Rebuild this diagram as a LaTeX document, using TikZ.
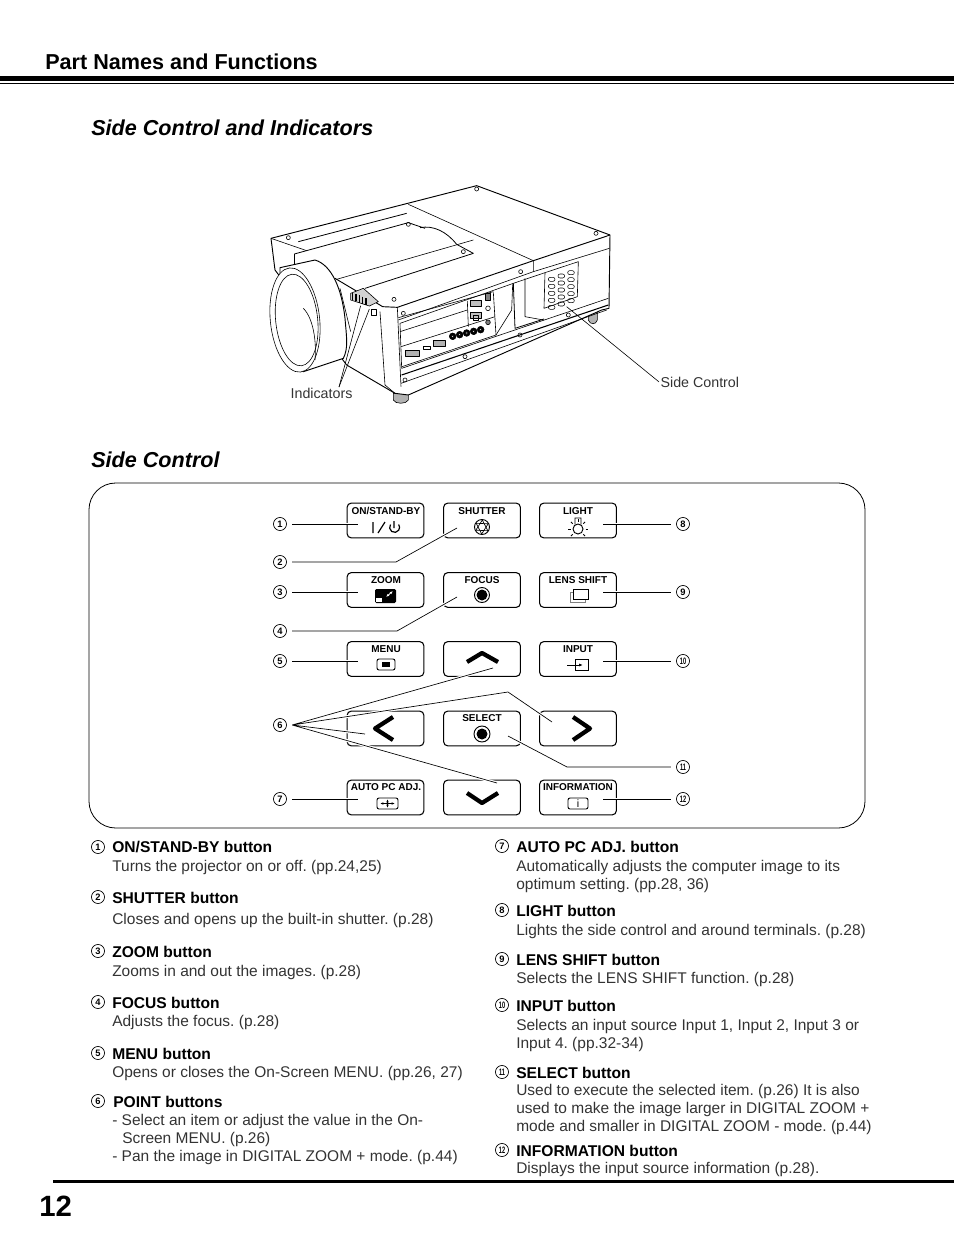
\documentclass[tikz,border=0pt]{standalone}
\usepackage{graphicx}
\usepackage{fontspec}
\setmainfont{Liberation Sans}
\usetikzlibrary{positioning,arrows.meta}
\frenchspacing
\definecolor{inkgray}{gray}{0.2}
\newcommand{\wide}[1]{\scalebox{0.6}[1]{#1}}
\tikzset{
    btn/.style={draw, line width=0.8pt, rounded corners=3pt, minimum width=57.5pt, minimum height=26pt, inner sep=0pt, fill=white},
    btntext/.style={font=\fontsize{7.5}{8}\selectfont\bfseries, inner sep=0pt},
    icon/.style={line width=0.7pt},
    chevron/.style={line width=3.2pt, line join=round},
    numlabel/.style={draw, circle, line width=0.5pt, minimum size=9.8pt, inner sep=0pt, outer sep=4.2pt, font=\fontsize{7}{7}\selectfont\bfseries},
    listnum/.style={numlabel, outer sep=0pt},
    leader/.style={line width=0.5pt, preaction={draw=white, line width=2.2pt}},
    itemtitle/.style={anchor=base west, inner sep=0pt, font=\fontsize{11.7}{13}\selectfont\bfseries},
    itemtext/.style={anchor=base west, inner sep=0pt, text=inkgray, font=\fontsize{11.62}{13}\selectfont},
    heading/.style={anchor=base west, inner sep=0pt, font=\fontsize{16.2}{18}\selectfont\bfseries\itshape},
    thin part/.style={line width=0.45pt},
    callout/.style={anchor=base west, inner sep=1pt, text=inkgray, font=\fontsize{10.7}{12}\selectfont}
}
\begin{document}
\begin{tikzpicture}[x=0.75pt, y=-0.75pt]
    \useasboundingbox (0,0) rectangle (954,1235);

    % page head and foot
    \node[anchor=base west, inner sep=0pt, font=\fontsize{16.2}{18}\selectfont\bfseries] (pagehead) at (45,69) {Part Names and Functions};
    \fill (0,76) rectangle (954,80.5);
    \fill (0,82.5) rectangle (954,83.5);
    \fill (53,1180) rectangle (954,1182.5);
    \node[anchor=base west, inner sep=0pt, font=\fontsize{22}{24}\selectfont\bfseries] (pagenum) at (39,1216) {12};
    \node[heading] (headside) at (91,135) {Side Control and Indicators};
    \node[heading] (headctrl) at (91,467) {Side Control};

    % projector, in its own coordinates
    \begin{scope}[shift={(260,175)}, scale=1/3, thin part, line join=round]
        % feet
        \draw[fill=gray!60] (400,655) -- (400,675) .. controls (405,688) and (440,688) .. (445,675) -- (445,655) -- cycle;
        \draw[fill=gray!60] (985,415) -- (985,435) .. controls (990,450) and (1008,450) .. (1012,435) -- (1012,405) -- cycle;
        \draw[line width=0.7pt, fill=white] (33,190) -- (650,32) -- (1050,180) -- (1047,400) -- (1025,405) -- (445,660) -- (405,655) -- (260,570) -- (45,285) -- cycle;
        \draw[line width=0.7pt] (1050,180) -- (820,257) -- (412,397) -- (368,395) -- (225,310);
        \draw (412,397) -- (423,635);
        \draw (360,410) -- (375,630) -- (405,655);
        \draw (445,88) -- (820,257) -- (820,290);
        \draw (33,190) -- (140,227);
        \draw[line width=0.6pt] (115,200) -- (440,115);
        \draw[line width=0.6pt] (103,237) -- (445,143) -- (495,160);
        \draw (103,237) -- (103,267);
        \draw (230,313) -- (640,195);
        \draw[line width=0.6pt] (315,340) -- (640,235) -- (590,208) .. controls (560,170) and (520,150) .. (480,158);
        % front
        \draw (415,435) -- (820,290) -- (1048,220);
        \draw (415,428) -- (700,350);
        \draw (420,445) -- (760,325) -- (855,293);
        \draw (420,445) -- (425,580);
        \draw (420,470) -- (622,405);
        \draw (423,515) -- (705,425);
        \draw (425,580) -- (1045,370);
        \draw[line width=0.8pt] (425,600) -- (1045,390);
        \draw (423,625) -- (1040,405);
        \draw (622,378) -- (625,455);
        \draw (700,352) -- (708,480) -- (426,575);
        \draw (708,480) -- (755,405) -- (758,328);
        \draw[line width=0.6pt] (760,325) -- (765,460) -- (852,432);
        \draw (795,310) -- (795,425) -- (850,435);
        \draw (855,293) -- (955,260) -- (952,365) -- (852,400) -- cycle;
        % lens barrel
        \draw[fill=white, line width=0.7pt] (60,278) -- (165,255) .. controls (215,270) and (245,340) .. (255,430) .. controls (260,490) and (265,520) .. (250,550) -- (130,590) -- (60,450) -- cycle;
        \draw (240,340) -- (272,470);
        \draw[fill=white, rotate around={6:(105,435)}] (105,435) ellipse [x radius=74, y radius=157];
        \draw[fill=white, rotate around={6:(110,435)}] (110,435) ellipse [x radius=63, y radius=138];
        \draw (130,400) .. controls (160,430) and (170,500) .. (165,555);
        % indicators
        \draw[fill=gray!35] (272,355) -- (310,340) -- (355,380) -- (328,393) -- (272,375) -- cycle;
        \foreach \ix in {0,...,4} {
            \draw[line width=1.1pt] (278+\ix*10,353+\ix*4) -- (278+\ix*10,375+\ix*4);
        }
        \draw (335,403) rectangle (348,420);
        % screws
        \foreach \sx/\sy in {85/188,650/42,1008/175,445/148,610/230,782/290,402/373,430/415,780/480,615/545,435/615,925/420} {
            \draw (\sx,\sy) circle (6);
        }
        % keypad
        \foreach \kc in {0,1,2} {
            \foreach \kr in {0,1,2,3,4} {
                \draw[rounded corners=1.5pt, line width=0.4pt] (865+\kc*29,307-\kc*10+\kr*21) rectangle (885+\kc*29,319-\kc*10+\kr*21);
            }
        }
        % terminals
        \foreach \tn in {0,1,2,3,4} {
            \draw[fill=black] (578+\tn*21,484-\tn*5) circle (10);
            \draw[fill=white] (578+\tn*21,484-\tn*5) circle (4);
        }
        \draw[fill=gray!60] (437,525) rectangle (478,545);
        \draw[fill=gray!60] (520,495) rectangle (555,515);
        \draw (490,515) rectangle (510,523);
        \foreach \ty in {0,1} {
            \draw[fill=gray!50] (630,376+\ty*35) rectangle (665,395+\ty*35);
        }
        \draw (640,420) rectangle (655,436);
        \draw[fill=gray] (675,355) rectangle (692,375);
        \draw (684,400) circle (7);
        \draw[fill=gray] (684,442) circle (7);
        \coordinate (indA) at (302,392);
        \coordinate (indB) at (328,402);
        \coordinate (sidepoint) at (920,395);
    \end{scope}
    \node[callout] (indlabel) at (289,398) {Indicators};
    \node[callout] (sidelabel) at (659,387) {Side Control};
    \coordinate (indfoot) at (339,387);
    \draw[thin part] (indfoot) -- (indA);
    \draw[thin part] (indfoot) -- (indB);
    \draw[thin part] (sidelabel.west) -- (sidepoint);

    % control panel
    \node[draw, line width=0.6pt, rounded corners=20pt, minimum width=582pt, minimum height=258.75pt, inner sep=0pt] (panel) at (477,655.5) {};

    \node[btn] (onbtn) at (385.5,520.5) {};
    \node[btn] (shutterbtn) at (482,520.5) {};
    \node[btn] (lightbtn) at (578,520.5) {};
    \node[btn] (zoombtn) at (385.5,590) {};
    \node[btn] (focusbtn) at (482,590) {};
    \node[btn] (lensbtn) at (578,590) {};
    \node[btn] (menubtn) at (385.5,659) {};
    \node[btn] (upbtn) at (482,659) {};
    \node[btn] (inputbtn) at (578,659) {};
    \node[btn] (leftbtn) at (385.5,728.5) {};
    \node[btn] (selectbtn) at (482,728.5) {};
    \node[btn] (rightbtn) at (578,728.5) {};
    \node[btn] (autobtn) at (385.5,797.5) {};
    \node[btn] (downbtn) at (482,797.5) {};
    \node[btn] (infobtn) at (578,797.5) {};

    \node[btntext] (ontext) at (386,511) {ON/STAND-BY};
    \node[btntext] (shuttertext) at (482,511) {SHUTTER};
    \node[btntext] (lighttext) at (578,511) {LIGHT};
    \node[btntext] (zoomtext) at (386,580) {ZOOM};
    \node[btntext] (focustext) at (482,580) {FOCUS};
    \node[btntext] (lenstext) at (578,580) {LENS SHIFT};
    \node[btntext] (menutext) at (386,649) {MENU};
    \node[btntext] (inputtext) at (578,649) {INPUT};
    \node[btntext] (selecttext) at (482,718) {SELECT};
    \node[btntext] (autotext) at (386,787) {AUTO PC ADJ.};
    \node[btntext] (infotext) at (578,787) {INFORMATION};

    % button icons
    \draw[icon, line width=0.9pt] (373,522) -- (373,533) (378,533) -- (385,522);
    \draw[icon, line width=0.9pt] (394,521) -- (394,528) (390.5,524.5) arc [start angle=215, end angle=-35, radius=5];
    \draw[icon] (482,527) circle (7.5);
    \foreach \ang in {0,60,...,300} {
        \draw[line width=0.5pt, rotate around={\ang:(482,527)}] (482,519.5) -- (488,531);
    }
    \draw[icon] (578,529) circle (5) (575,524) -- (575,518) -- (581,518) -- (581,524);
    \foreach \ang in {0,45,135,180,225,270,315} {
        \draw[icon] (578,529) ++(\ang:7.5) -- ++(\ang:2.5);
    }
    \fill[rounded corners=1pt] (375,589) rectangle (396,603);
    \fill[white] (376,598) rectangle (382,602);
    \draw[white, line width=0.6pt, {Latex[length=2.5pt]}-{Latex[length=2.5pt]}] (386,597) -- (393,591);
    \draw[icon] (482,595) circle (7.5);
    \fill (482,595) circle (5.5);
    \draw[gray, icon] (570,592) rectangle (585,602);
    \draw[icon, fill=white] (573,589) rectangle (588,599);
    \draw[icon, rounded corners=1.5pt] (377,659) rectangle (395,670);
    \fill (382,662) rectangle (390,667);
    \draw[chevron] (467,662) -- (482,653) -- (498,662);
    \draw[icon] (575,659) rectangle (588,670);
    \draw[icon, -{Latex[length=3pt]}] (567,665) -- (583,665);
    \draw[chevron] (393,717) -- (375,728.5) -- (393,740);
    \draw[icon] (482,734) circle (8);
    \fill (482,734) circle (5.5);
    \draw[chevron] (573,717) -- (590,728.5) -- (573,740);
    \draw[icon, rounded corners=1.5pt] (377,798) rectangle (398,809);
    \draw[line width=0.5pt, {Latex[length=2.5pt]}-{Latex[length=2.5pt]}] (380,803.5) -- (395,803.5);
    \draw[line width=0.5pt, {Latex[length=2.5pt]}-{Latex[length=2.5pt]}] (387.5,799) -- (387.5,808);
    \draw[chevron] (467,793) -- (482,803) -- (498,793);
    \draw[icon, rounded corners=1.5pt] (568,798) rectangle (588,809);
    \node[inner sep=0pt, font=\fontsize{8}{8}\selectfont] (infoicon) at (578,803.5) {i};

    % numbers round the panel
    \node[numlabel] (n1) at (280,524) {1};
    \node[numlabel] (n2) at (280,562) {2};
    \node[numlabel] (n3) at (280,592) {3};
    \node[numlabel] (n4) at (280,631) {4};
    \node[numlabel] (n5) at (280,661) {5};
    \node[numlabel] (n6) at (280,725) {6};
    \node[numlabel] (n7) at (280,799) {7};
    \node[numlabel] (n8) at (683,524) {8};
    \node[numlabel] (n9) at (683,592) {9};
    \node[numlabel] (n10) at (683,661) {\wide{10}};
    \node[numlabel] (n11) at (683,767) {\wide{11}};
    \node[numlabel] (n12) at (683,799) {\wide{12}};

    \coordinate (t1) at (358,524);
    \coordinate (t2) at (457,528);
    \coordinate (t3) at (358,592);
    \coordinate (t4) at (457,597);
    \coordinate (t5) at (358,661);
    \coordinate (t7) at (358,799);
    \coordinate (t8) at (603,524);
    \coordinate (t9) at (603,592);
    \coordinate (t10) at (603,661);
    \coordinate (t11) at (508,736);
    \coordinate (t12) at (603,799);
    \coordinate (tup) at (493,668);
    \coordinate (tright) at (552,722);
    \coordinate (tleft) at (365,734);
    \coordinate (tdown) at (497,783);

    \draw[leader] (n1) -- (t1);
    \draw[leader] (n2) -- (396,562) -- (t2);
    \draw[leader] (n3) -- (t3);
    \draw[leader] (n4) -- (397,631) -- (t4);
    \draw[leader] (n5) -- (t5);
    \draw[leader] (n7) -- (t7);
    \draw[leader] (n8) -- (t8);
    \draw[leader] (n9) -- (t9);
    \draw[leader] (n10) -- (t10);
    \draw[leader] (n11) -- (567,767) -- (t11);
    \draw[leader] (n12) -- (t12);
    \draw[leader] (n6.east) -- (tup) (n6.east) -- (508,692) -- (tright) (n6.east) -- (tleft) (n6.east) -- (tdown);

    % left column
    \node[listnum] (l1) at (98,847) {1};
    \node[itemtitle] (a1) at (112,852) {ON/STAND-BY button};
    \node[itemtext] (b1) at (112,871) {Turns the projector on or off. (pp.24,25)};
    \node[listnum] (l2) at (98,897) {2};
    \node[itemtitle] (a2) at (112,903) {SHUTTER button};
    \node[itemtext] (b2) at (112,924) {Closes and opens up the built-in shutter. (p.28)};
    \node[listnum] (l3) at (98,951) {3};
    \node[itemtitle] (a3) at (112,957) {ZOOM button};
    \node[itemtext] (b3) at (112,976) {Zooms in and out the images. (p.28)};
    \node[listnum] (l4) at (98,1002) {4};
    \node[itemtitle] (a4) at (112,1008) {FOCUS button};
    \node[itemtext] (b4) at (112,1026) {Adjusts the focus. (p.28)};
    \node[listnum] (l5) at (98,1053) {5};
    \node[itemtitle] (a5) at (112,1059) {MENU button};
    \node[itemtext] (b5) at (112,1077) {Opens or closes the On-Screen MENU. (pp.26, 27)};
    \node[listnum] (l6) at (98,1101) {6};
    \node[itemtitle] (a6) at (113,1107) {POINT buttons};
    \node[itemtext] (b6a) at (112,1125) {- Select an item or adjust the value in the On-};
    \node[itemtext] (b6b) at (122,1143) {Screen MENU. (p.26)};
    \node[itemtext] (b6c) at (112,1161) {- Pan the image in DIGITAL ZOOM + mode. (p.44)};

    % right column
    \node[listnum] (l7) at (502,846) {7};
    \node[itemtitle] (a7) at (516,852) {AUTO PC ADJ. button};
    \node[itemtext] (b7a) at (516,871) {Automatically adjusts the computer image to its};
    \node[itemtext] (b7b) at (516,889) {optimum setting. (pp.28, 36)};
    \node[listnum] (l8) at (502,910) {8};
    \node[itemtitle] (a8) at (516,916) {LIGHT button};
    \node[itemtext] (b8) at (516,935) {Lights the side control and around terminals. (p.28)};
    \node[listnum] (l9) at (502,959) {9};
    \node[itemtitle] (a9) at (516,965) {LENS SHIFT button};
    \node[itemtext] (b9) at (516,983) {Selects the LENS SHIFT function. (p.28)};
    \node[listnum] (l10) at (502,1005) {\wide{10}};
    \node[itemtitle] (a10) at (516,1011) {INPUT button};
    \node[itemtext] (b10a) at (516,1030) {Selects an input source Input 1, Input 2, Input 3 or};
    \node[itemtext] (b10b) at (516,1048) {Input 4. (pp.32-34)};
    \node[listnum] (l11) at (502,1072) {\wide{11}};
    \node[itemtitle] (a11) at (516,1078) {SELECT button};
    \node[itemtext] (b11a) at (516,1095) {Used to execute the selected item. (p.26) It is also};
    \node[itemtext] (b11b) at (516,1113) {used to make the image larger in DIGITAL ZOOM +};
    \node[itemtext] (b11c) at (516,1131) {mode and smaller in DIGITAL ZOOM - mode. (p.44)};
    \node[listnum] (l12) at (502,1150) {\wide{12}};
    \node[itemtitle] (a12) at (516,1156) {INFORMATION button};
    \node[itemtext] (b12) at (516,1173) {Displays the input source information (p.28).};
\end{tikzpicture}
\end{document}
